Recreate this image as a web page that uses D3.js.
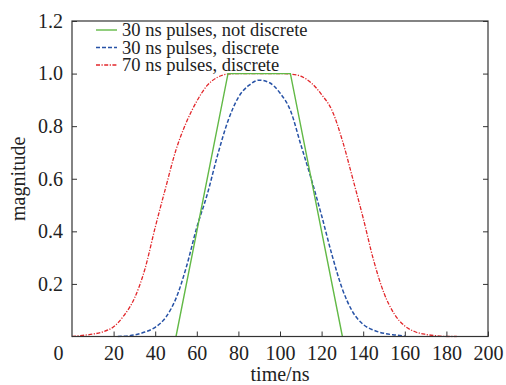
<!DOCTYPE html>
<html><head><meta charset="utf-8">
<script src="https://cdn.jsdelivr.net/npm/d3@7"></script>
<style>body{margin:0;background:#fff}svg{display:block}</style>
</head><body>
<svg id="c" width="506" height="385"></svg>
<script>
const xTicks = [0,20,40,60,80,100,120,140,160,180,200];
const yTicks = [0.2,0.4,0.6,0.8,1.0,1.2];
const seriesNames = ["30 ns pulses, not discrete","30 ns pulses, discrete","70 ns pulses, discrete"];
const greenT = [50,75,105,130];
const greenV = [0,1,1,0];
const blueT = [22,25,30,35,40,45,50,55,60,65,70,75,80,85,90,95,100,105,110,115,120,125,130,135,140,145,150,155,160];
const blueV = [0,0.001,0.006,0.017,0.035,0.072,0.145,0.265,0.415,0.54,0.69,0.82,0.91,0.955,0.975,0.965,0.926,0.86,0.73,0.60,0.46,0.31,0.18,0.093,0.046,0.024,0.012,0.006,0.002];
const redT = [0,5,10,15,20,25,30,35,40,45,50,55,60,65,70,75,80,85,90,95,100,105,110,115,120,125,130,135,140,145,150,155,160,165,170,175,180,185];
const redV = [0,0.004,0.009,0.018,0.037,0.08,0.145,0.255,0.415,0.565,0.71,0.815,0.895,0.955,0.986,0.998,1,1,1,1,1,0.998,0.99,0.965,0.92,0.86,0.745,0.60,0.45,0.29,0.165,0.085,0.04,0.018,0.008,0.003,0,0];

const svg = d3.select("#c");
const L=72,R=488,T=21,B=336.5;
const x = d3.scaleLinear().domain([0,200]).range([L,R]);
const y = d3.scaleLinear().domain([0,1.2]).range([B,T]);
const font = "Liberation Serif, Times New Roman, serif";

const straight = d3.line().x(d=>x(d[0])).y(d=>y(d[1]));
const smooth = d3.line().x(d=>x(d[0])).y(d=>y(d[1])).curve(d3.curveMonotoneX);
const series = [
  {pts: greenT.map((t,i)=>[t,greenV[i]]), color:"#62b946", dash:null, w:1.4, gen:straight},
  {pts: blueT.map((t,i)=>[t,blueV[i]]), color:"#2752a6", dash:"4,2", w:1.5, gen:smooth},
  {pts: redT.map((t,i)=>[t,redV[i]]), color:"#e2262a", dash:"4,1.5,1.2,1.5", w:1.3, gen:smooth}
];
svg.append("clipPath").attr("id","cp").append("rect").attr("x",L).attr("y",T).attr("width",R-L).attr("height",B-T+1);
const g = svg.append("g").attr("clip-path","url(#cp)");
[2,1,0].forEach(i=>{
  const s=series[i];
  g.append("path").attr("d",s.gen(s.pts)).attr("fill","none").attr("stroke",s.color)
   .attr("stroke-width",s.w).attr("stroke-dasharray",s.dash);
});

// axes
const xa = svg.append("g").attr("transform",`translate(0,${B})`)
  .call(d3.axisBottom(x).tickValues(xTicks).tickSize(-5).tickPadding(9).tickFormat(d3.format("d")));
const ya = svg.append("g").attr("transform",`translate(${L},0)`)
  .call(d3.axisLeft(y).tickValues(yTicks).tickSize(-5).tickPadding(9).tickFormat(d3.format(".1f")));
const yr = svg.append("g").attr("transform",`translate(${R},0)`)
  .call(d3.axisRight(y).tickValues(yTicks).tickSize(-5).tickFormat(""));
[xa,ya,yr].forEach(a=>{
  a.select(".domain").remove();
  a.selectAll("line").attr("stroke","#333").attr("stroke-width",1);
  a.selectAll("text").attr("font-family",font).attr("font-size",20).attr("fill","#222");
});
xa.selectAll(".tick").filter(d=>d===0).select("line").remove();
xa.selectAll(".tick").filter(d=>d===0).select("text").attr("x",-14);
svg.append("rect").attr("x",L).attr("y",T).attr("width",R-L).attr("height",B-T)
  .attr("fill","none").attr("stroke","#333").attr("stroke-width",1.2);

// axis titles
svg.append("text").attr("x",(L+R)/2).attr("y",381).attr("text-anchor","middle")
  .attr("font-family",font).attr("font-size",20).attr("fill","#222").text("time/ns");
svg.append("text").attr("transform",`translate(25,${(T+B)/2}) rotate(-90)`).attr("text-anchor","middle")
  .attr("font-family",font).attr("font-size",20).attr("fill","#222").text("magnitude");

// legend
const lg = svg.append("g");
seriesNames.forEach((n,i)=>{
  const s=series[i], yy=30+i*17.5;
  lg.append("line").attr("x1",96).attr("x2",117).attr("y1",yy).attr("y2",yy)
    .attr("stroke",s.color).attr("stroke-width",s.w).attr("stroke-dasharray",s.dash);
  lg.append("text").attr("x",122).attr("y",yy+6).attr("font-family",font).attr("font-size",18.5)
    .attr("fill","#222").text(n);
});
</script>
</body></html>
